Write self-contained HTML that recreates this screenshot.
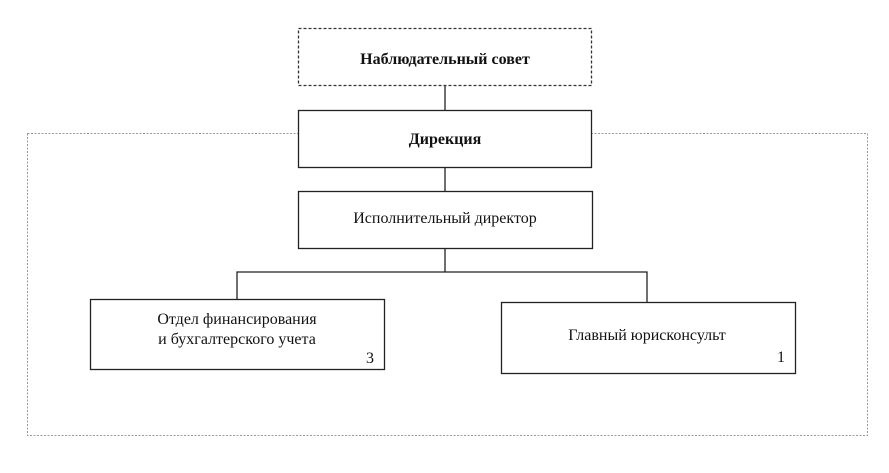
<!DOCTYPE html>
<html><head><meta charset="utf-8"><style>
body{margin:0;width:889px;height:468px;background:#fff;overflow:hidden}
svg text{font-family:"Liberation Serif",serif;fill:#111}
</style></head><body>
<svg width="889" height="468" viewBox="0 0 889 468">
<rect x="27.5" y="133.5" width="840" height="302" fill="none" stroke="#999" stroke-width="1" stroke-dasharray="2,1.5"/>
<g stroke="#222" stroke-width="1.3" fill="#fff">
<line x1="445" y1="86" x2="445" y2="110"/>
<line x1="445" y1="167" x2="445" y2="191"/>
<line x1="445" y1="248" x2="445" y2="272"/>
<polyline points="237,299 237,272 647,272 647,302" fill="none"/>
<rect x="298.5" y="110.5" width="293" height="57"/>
<rect x="298.5" y="191.5" width="294" height="57"/>
<rect x="90.5" y="299.5" width="294" height="70"/>
<rect x="501.5" y="302.5" width="294" height="71"/>
</g>
<rect x="298.5" y="28.5" width="293" height="57" fill="#fff" stroke="#333" stroke-width="1.3" stroke-dasharray="3,2"/>
<text x="445" y="64" font-size="16" font-weight="bold" text-anchor="middle">Наблюдательный совет</text>
<text x="445" y="144" font-size="16" font-weight="bold" text-anchor="middle">Дирекция</text>
<text x="445" y="223" font-size="16" text-anchor="middle">Исполнительный директор</text>
<text x="237" y="324" font-size="16" text-anchor="middle">Отдел финансирования</text>
<text x="237" y="344" font-size="16" text-anchor="middle">и бухгалтерского учета</text>
<text x="370" y="363" font-size="16" text-anchor="middle">3</text>
<text x="647" y="340" font-size="16" text-anchor="middle">Главный юрисконсульт</text>
<text x="781" y="362" font-size="16" text-anchor="middle">1</text>
</svg>
</body></html>
